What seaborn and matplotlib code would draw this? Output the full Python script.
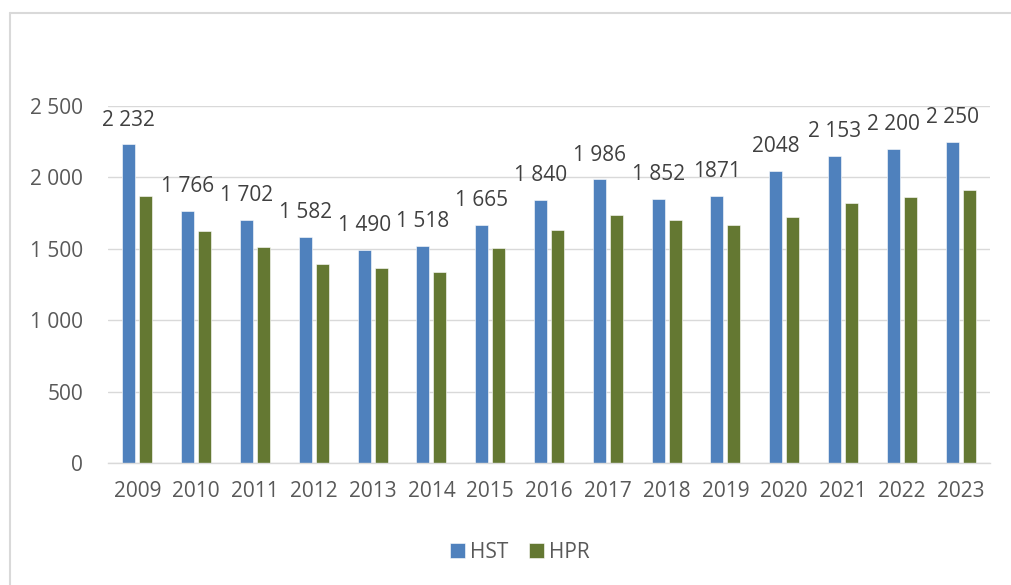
import pandas as pd
import numpy as np
import matplotlib
matplotlib.use('Agg')
import matplotlib.pyplot as plt
import seaborn as sns

# Data
years = ['2009', '2010', '2011', '2012', '2013', '2014', '2015', '2016',
         '2017', '2018', '2019', '2020', '2021', '2022', '2023']
hst = [2232, 1766, 1702, 1582, 1490, 1518, 1665, 1840, 1986, 1852, 1871, 2048, 2153, 2200, 2250]
hpr = [1870, 1622, 1513, 1391, 1365, 1340, 1503, 1632, 1734, 1700, 1665, 1720, 1823, 1865, 1910]
hst_labels = ['2 232', '1 766', '1 702', '1 582', '1 490', '1 518', '1 665', '1 840',
              '1 986', '1 852', '1871', '2048', '2 153', '2 200', '2 250']
y_ticks = [0, 500, 1000, 1500, 2000, 2500]
y_tick_labels = ['0', '500', '1 000', '1 500', '2 000', '2 500']

df = pd.DataFrame({
    'year': years * 2,
    'value': hst + hpr,
    'series': ['HST'] * len(years) + ['HPR'] * len(years),
})

sns.set_theme(style='white')
plt.rcParams['font.family'] = ['Open Sans', 'DejaVu Sans']
text_col = '#595959'

fig = plt.figure(figsize=(10.12, 5.85), dpi=100)
ax = fig.add_axes([108 / 1012, 1 - 463 / 585, 882 / 1012, 357 / 585])

sns.barplot(data=df, x='year', y='value', hue='series',
            palette={'HST': '#4F81BD', 'HPR': '#647832'}, saturation=1,
            width=0.58, gap=0.24, edgecolor='white', linewidth=0.4,
            ax=ax, legend=True)

# data labels on HST bars
hst_bars = ax.containers[0]
for bar, lab in zip(hst_bars, hst_labels):
    ax.annotate(lab, (bar.get_x() + bar.get_width() / 2, bar.get_height()),
                xytext=(0, 13.5), textcoords='offset points',
                ha='center', va='baseline', fontsize=15, color='#404040')

ax.set_ylim(0, 2500)
ax.set_xlim(-0.5, len(years) - 0.5)
ax.set_yticks(y_ticks)
ax.set_yticklabels(y_tick_labels)
ax.yaxis.grid(True, color='#d9d9d9', linewidth=1)
ax.set_axisbelow(True)
ax.set_xlabel('')
ax.set_ylabel('')
for s in ['top', 'right', 'left']:
    ax.spines[s].set_visible(False)
ax.spines['bottom'].set_color('#d9d9d9')
ax.spines['bottom'].set_linewidth(1)
ax.tick_params(axis='both', length=0, labelsize=15, colors=text_col)
ax.tick_params(axis='x', pad=13)
ax.tick_params(axis='y', pad=18)

ax.legend(loc='center', bbox_to_anchor=(0.467, -0.25), ncol=2, frameon=False,
          fontsize=15, handlelength=0.72, handleheight=0.72, columnspacing=1.0,
          handletextpad=0.25, labelcolor=text_col)

# chart border (partly cropped)
fig.add_artist(plt.Line2D([10 / 1012, 10 / 1012], [0, 1 - 13 / 585],
                          color='#d9d9d9', linewidth=1.5, transform=fig.transFigure))
fig.add_artist(plt.Line2D([10 / 1012, 1], [1 - 13 / 585, 1 - 13 / 585],
                          color='#d9d9d9', linewidth=1.5, transform=fig.transFigure))

fig.savefig('out.png', dpi=100)
